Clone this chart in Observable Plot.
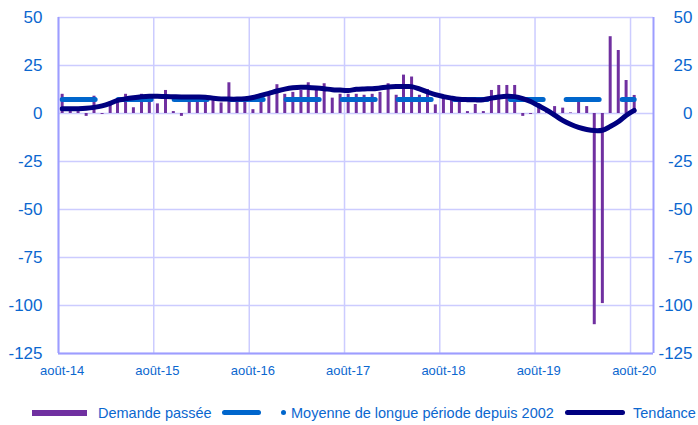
<!DOCTYPE html>
<html><head><meta charset="utf-8">
<script src="https://cdn.jsdelivr.net/npm/d3@7"></script>
<script src="https://cdn.jsdelivr.net/npm/@observablehq/plot@0.6"></script>
<style>
body{margin:0;background:#fff;font-family:"Liberation Sans",Arial,sans-serif;}
#wrap{position:relative;width:698px;height:425px;overflow:hidden;}
#legend{position:absolute;left:0;top:390px;width:698px;height:35px;overflow:hidden;}
#legend .t{position:absolute;top:14px;font-size:14.5px;color:#0b67cf;white-space:nowrap;line-height:18px;}
#legend .sw{position:absolute;}
</style></head><body>
<div id="wrap"><div id="chart"></div><div id="legend"></div></div>
<script>
// ---- data ----
const demande = [10, 2, 1, -1.5, 9, -0.5, 6, 7, 10, 3, 10, 9,
  5, 12, 1, -1.5, 7, 8, 7, 7, 5.5, 16, 6, 6,
  2, 7, 10, 15, 10, 11, 12, 16, 12, 15.5, 8, 10,
  10, 10, 9.5, 10, 11, 15.5, 9.5, 20, 19, 9.5, 12.5, 4.5,
  7.5, 7.5, 7, 1, 4.7, 1, 12, 14.6, 14.6, 14.6, -1.5, -0.5,
  5, 1, 3.6, 2.8, 0.3, 5.8, 3.6, -110, -99, 40, 32.8, 17.2,
  9.4];
const tendance = [2.5, 2.5, 2.5, 2.7, 3.2, 4.0, 5.3, 6.8, 7.6, 8.2, 8.7, 9.0,
  9.0, 8.8, 8.7, 8.6, 8.6, 8.6, 8.5, 8.0, 7.6, 7.5, 7.5, 7.7,
  8.3, 9.4, 10.5, 11.7, 12.7, 13.4, 13.7, 13.6, 13.3, 12.9, 12.4, 12.2,
  12.0, 12.6, 12.8, 12.9, 13.3, 13.8, 14.0, 14.0, 14.0, 12.8, 11.2, 9.8,
  8.8, 8.0, 7.4, 7.2, 7.1, 7.2, 8.0, 8.6, 9.0, 8.8, 7.8, 6.2,
  4.0, 1.8, -0.8, -3.6, -5.6, -7.2, -8.3, -8.9, -8.7, -6.8, -4.3, -1.0,
  1.6];
const moyenne = 7.3;
const yTicks = [50, 25, 0, -25, -50, -75, -100, -125];
const xTickYears = [2014, 2015, 2016, 2017, 2018, 2019, 2020];
const legendLabels = ["Demande passée", "Moyenne de longue période depuis 2002", "Tendance"];

// ---- build ----
const months = d3.utcMonth.range(new Date(Date.UTC(2014, 7, 1)), new Date(Date.UTC(2020, 8, 1)));
const data = months.map((m, i) => ({date: d3.utcDay.offset(m, 14), demande: demande[i], tendance: tendance[i], moyenne}));
const gridDates = xTickYears.map(y => new Date(Date.UTC(y, 7, 1)));
const labelDates = xTickYears.map(y => new Date(Date.UTC(y, 7, 15)));
const x0 = new Date(Date.UTC(2014, 7, 1)), x1 = new Date(Date.UTC(2020, 9, 28));

const cText = "#0b67cf", cGrid = "#ccccff", cAxis = "#9d9dff";
const purple = "#7030a0", blue = "#0066cc", navy = "#000080";

const chart = Plot.plot({
  width: 698, height: 390,
  marginLeft: 58, marginRight: 45, marginTop: 17, marginBottom: 37,
  style: {fontFamily: "'Liberation Sans', Arial, sans-serif", background: "#fff", overflow: "visible"},
  x: {type: "utc", domain: [x0, x1]},
  y: {domain: [-125, 50]},
  marks: [
    Plot.gridY(yTicks, {stroke: cGrid, strokeOpacity: 1, strokeWidth: 1.5}),
    Plot.gridX(gridDates, {stroke: cGrid, strokeOpacity: 1, strokeWidth: 1.5}),
    Plot.ruleX(data, {x: "date", y1: 0, y2: "demande", stroke: purple, strokeWidth: 3}),
    Plot.lineY(data, {x: "date", y: "moyenne", stroke: blue, strokeWidth: 5, strokeDasharray: "33,23", strokeLinecap: "round"}),
    Plot.lineY(data, {x: "date", y: "tendance", stroke: navy, strokeWidth: 5, curve: "catmull-rom", strokeLinecap: "round"}),
    Plot.ruleX([x0, x1], {stroke: cAxis, strokeWidth: 2}),
    Plot.ruleY([-125], {stroke: cAxis, strokeWidth: 2}),
    Plot.axisY(yTicks, {anchor: "left", tickSize: 0, tickPadding: 16, fontSize: 17, color: cText, tickFormat: d => String(d), label: null}),
    Plot.axisY(yTicks, {anchor: "right", tickSize: 0, tickPadding: 39, textAnchor: "end", fontSize: 17, color: cText, tickFormat: d => String(d), label: null}),
    Plot.axisX(labelDates, {anchor: "bottom", tickSize: 0, tickPadding: 12, fontSize: 13, color: cText, tickFormat: d => "août-" + String(d.getUTCFullYear()).slice(2), label: null})
  ]
});
document.getElementById("chart").appendChild(chart);

// ---- legend ----
const lg = document.getElementById("legend");
function add(html) { lg.insertAdjacentHTML("beforeend", html); }
add(`<div class="sw" style="left:32px;top:20px;width:55px;height:6px;background:${purple}"></div>`);
add(`<div class="t" style="left:98px">${legendLabels[0]}</div>`);
add(`<div class="sw" style="left:222px;top:20px;width:39px;height:5px;border-radius:3px;background:${blue}"></div>`);
add(`<div class="sw" style="left:281px;top:20px;width:5px;height:5px;border-radius:3px;background:${blue}"></div>`);
add(`<div class="t" style="left:291px">${legendLabels[1]}</div>`);
add(`<div class="sw" style="left:565px;top:20px;width:60px;height:5px;border-radius:3px;background:${navy}"></div>`);
add(`<div class="t" style="left:633px">${legendLabels[2]}</div>`);
</script>
</body></html>
